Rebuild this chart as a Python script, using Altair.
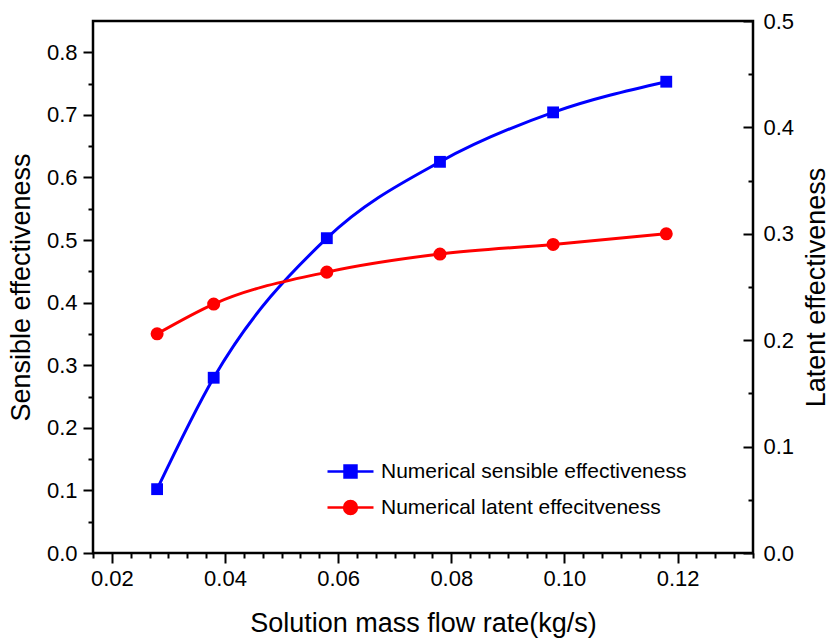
import altair as alt
import pandas as pd

# ---- data ----
flow = [0.028, 0.038, 0.058, 0.078, 0.098, 0.118]
sensible = [0.102, 0.280, 0.503, 0.625, 0.704, 0.753]
latent = [0.206, 0.234, 0.264, 0.281, 0.290, 0.300]
series_names = ["Numerical sensible effectiveness", "Numerical latent effecitveness"]
series_colors = ["#0000FF", "#FF0000"]

x_major = [0.02, 0.04, 0.06, 0.08, 0.10, 0.12]
x_minor = [k / 300 for k in range(5, 41) if k % 6 != 0]
yl_major = [0.0, 0.1, 0.2, 0.3, 0.4, 0.5, 0.6, 0.7, 0.8]
yl_minor = [0.05, 0.15, 0.25, 0.35, 0.45, 0.55, 0.65, 0.75]
yr_major = [0.0, 0.1, 0.2, 0.3, 0.4, 0.5]
yr_minor = [0.05, 0.15, 0.25, 0.35, 0.45]

X_DOMAIN = [5 / 300, 40 / 300]
YL_DOMAIN = [0.0, 0.85]
YR_DOMAIN = [0.0, 0.5]

W, H = 660, 532
FONT = "Liberation Sans"

df = pd.DataFrame({
    "flow": flow + flow,
    "value": sensible + latent,
    "series": [series_names[0]] * len(flow) + [series_names[1]] * len(flow),
})
sens_df = df[df["series"] == series_names[0]]
lat_df = df[df["series"] == series_names[1]]

xs = alt.Scale(domain=X_DOMAIN, nice=False, zero=False)
yls = alt.Scale(domain=YL_DOMAIN, nice=False, zero=False)
yrs = alt.Scale(domain=YR_DOMAIN, nice=False, zero=False)

common_axis = dict(domain=False, grid=False, tickColor="black", tickWidth=2,
                   labelFont=FONT, labelColor="black", titleFont=FONT,
                   titleColor="black", titleFontWeight="normal")

x_axis_major = alt.Axis(orient="bottom", values=x_major, format=".2f", tickSize=10,
                        labelFontSize=22, labelPadding=5,
                        title="Solution mass flow rate(kg/s)",
                        titleFontSize=27, titleY=78, titleBaseline="alphabetic",
                        labelFlush=False, **common_axis)
x_axis_minor = alt.Axis(orient="bottom", values=x_minor, tickSize=5, labels=False,
                        title=None, **common_axis)

yl_axis_major = alt.Axis(orient="left", values=yl_major, format=".1f", tickSize=10,
                         labelFontSize=22, labelPadding=6,
                         title="Sensible effectiveness", titleFontSize=27,
                         titleX=-64, titleY=H / 2, titleBaseline="alphabetic",
                         titleAngle=-90, labelFlush=False, **common_axis)
yl_axis_minor = alt.Axis(orient="left", values=yl_minor, tickSize=5, labels=False,
                         title=None, **common_axis)

yr_axis_labels = alt.Axis(orient="right", values=yr_major, format=".1f", ticks=False,
                          tickSize=0, labelFontSize=22, labelPadding=10,
                          title="Latent effectiveness", titleFontSize=27,
                          titleX=71, titleY=H / 2, titleBaseline="alphabetic",
                          titleAngle=-90, labelFlush=False, **common_axis)
yr_axis_ticks_major = alt.Axis(orient="left", offset=-W, values=yr_major, tickSize=10,
                               labels=False, title=None, **common_axis)
yr_axis_ticks_minor = alt.Axis(orient="left", offset=-W, values=yr_minor, tickSize=5,
                               labels=False, title=None, **common_axis)

blue, red = series_colors

blue_line = alt.Chart(sens_df).mark_line(color=blue, strokeWidth=3, interpolate="monotone").encode(
    x=alt.X("flow:Q", scale=xs, axis=x_axis_major),
    y=alt.Y("value:Q", scale=yls, axis=yl_axis_major),
)
blue_pts = alt.Chart(sens_df).mark_point(shape="square", filled=True, size=140, color=blue, opacity=1).encode(
    x=alt.X("flow:Q", scale=xs, axis=None),
    y=alt.Y("value:Q", scale=yls, axis=None),
)
blue_minor = alt.Chart(sens_df).mark_point(opacity=0).encode(
    x=alt.X("flow:Q", scale=xs, axis=x_axis_minor),
    y=alt.Y("value:Q", scale=yls, axis=yl_axis_minor),
)

red_line = alt.Chart(lat_df).mark_line(color=red, strokeWidth=3, interpolate="monotone").encode(
    x=alt.X("flow:Q", scale=xs, axis=None),
    y=alt.Y("value:Q", scale=yrs, axis=yr_axis_labels),
)
red_pts = alt.Chart(lat_df).mark_point(shape="circle", filled=True, size=170, color=red, opacity=1).encode(
    x=alt.X("flow:Q", scale=xs, axis=None),
    y=alt.Y("value:Q", scale=yrs, axis=None),
)
red_ticks_major = alt.Chart(lat_df).mark_point(opacity=0).encode(
    x=alt.X("flow:Q", scale=xs, axis=None),
    y=alt.Y("value:Q", scale=yrs, axis=yr_axis_ticks_major),
)
red_ticks_minor = alt.Chart(lat_df).mark_point(opacity=0).encode(
    x=alt.X("flow:Q", scale=xs, axis=None),
    y=alt.Y("value:Q", scale=yrs, axis=yr_axis_ticks_minor),
)

sq_path = "M-1,0H1M-0.26,-0.26H0.26V0.26H-0.26Z"
circ_path = "M-1,0H1M-0.28,0A0.28,0.28 0 1,0 0.28,0A0.28,0.28 0 1,0 -0.28,0Z"

legend_def = alt.Legend(
    title=None, orient="none", legendX=233, legendY=426, padding=0,
    labelFont=FONT, labelFontSize=21, labelColor="black", labelOffset=6,
    symbolSize=2116, symbolStrokeWidth=2.5, symbolOpacity=1, rowPadding=0,
    labelLimit=400,
)
legend_layer = alt.Chart(df).mark_point(filled=True, opacity=0).encode(
    x=alt.X("flow:Q", scale=xs, axis=None),
    y=alt.Y("value:Q", scale=yls, axis=None),
    fill=alt.Fill("series:N", scale=alt.Scale(domain=series_names, range=series_colors), legend=legend_def),
    stroke=alt.Stroke("series:N", scale=alt.Scale(domain=series_names, range=series_colors), legend=legend_def),
    shape=alt.Shape("series:N", scale=alt.Scale(domain=series_names, range=[sq_path, circ_path]), legend=legend_def),
)

chart = alt.layer(
    blue_minor, red_ticks_major, red_ticks_minor,
    blue_line, red_line, blue_pts, red_pts, legend_layer,
).resolve_scale(
    y="independent"
).resolve_axis(
    x="independent", y="independent"
).properties(
    width=W, height=H,
    autosize=alt.AutoSizeParams(type="none"),
    padding={"left": 93, "top": 21, "right": 77, "bottom": 86},
    background="white",
).configure_view(
    stroke="black", strokeWidth=2.5
)

chart.save("out.html", embed_options={"renderer": "svg", "actions": False})
